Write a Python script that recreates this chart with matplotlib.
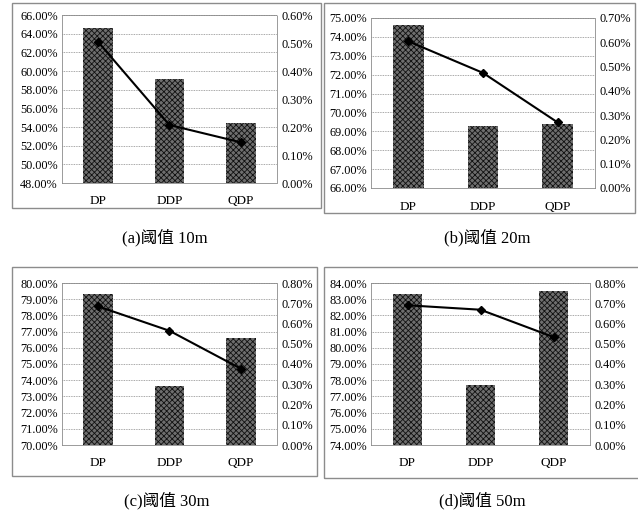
import matplotlib
matplotlib.use("Agg")
import matplotlib.pyplot as plt
import matplotlib.patches as patches
import numpy as np

plt.rcParams['font.family'] = ['Liberation Serif', 'Noto Sans CJK SC']
plt.rcParams['hatch.linewidth'] = 0.6

# --- Daten ---
categories = ['DP', 'DDP', 'QDP']
captions = ['(a)阈值 10m', '(b)阈值 20m', '(c)阈值 30m', '(d)阈值 50m']

bar_a = [64.6, 59.1, 54.4]
bar_b = [74.65, 69.26, 69.4]
bar_c = [79.3, 73.65, 76.6]
bar_d = [83.3, 77.7, 83.5]

line_a = [0.505, 0.207, 0.145]
line_b = [0.604, 0.474, 0.270]
line_c = [0.685, 0.564, 0.376]
line_d = [0.690, 0.668, 0.533]

left_ticks_a = np.arange(48, 66.1, 2)
left_ticks_b = np.arange(66, 75.1, 1)
left_ticks_c = np.arange(70, 80.1, 1)
left_ticks_d = np.arange(74, 84.1, 1)
right_ticks_a = np.arange(0, 0.61, 0.1)
right_ticks_b = np.arange(0, 0.71, 0.1)
right_ticks_c = np.arange(0, 0.81, 0.1)
right_ticks_d = np.arange(0, 0.81, 0.1)

W, H = 638, 512
fig = plt.figure(figsize=(W / 100, H / 100), dpi=100)


def px_rect(l, r, t, b):
    return [l / W, (H - b) / H, (r - l) / W, (b - t) / H]


def draw_box(l, r, t, b):
    rect = patches.Rectangle((l / W, (H - b) / H), (r - l) / W, (b - t) / H,
                             transform=fig.transFigure, fill=False,
                             edgecolor='#8c8c8c', linewidth=1.0)
    fig.add_artist(rect)


def panel(pos, bars, line, lticks, rticks, caption, cap_xy):
    ax = fig.add_axes(px_rect(*pos))
    x = np.arange(len(categories))
    ax.bar(x, bars, width=0.41, color='#6e6e6e', edgecolor='#111111',
           linewidth=0, hatch='xxxxxx', zorder=2)
    ax.set_xlim(-0.5, 2.5)
    ax.set_ylim(lticks[0], lticks[-1])
    ax.set_yticks(lticks)
    ax.set_yticklabels([f'{v:.2f}%' for v in lticks], fontsize=8.8)
    ax.set_xticks(x)
    ax.set_xticklabels(categories, fontsize=9.5)
    ax.tick_params(axis='both', length=0)
    ax.tick_params(axis='y', pad=3)
    ax.tick_params(axis='x', pad=9)
    ax.grid(axis='y', color='#8a8a8a', linestyle=(0, (1, 1)), linewidth=0.6, zorder=0)
    ax.set_axisbelow(True)
    for s in ax.spines.values():
        s.set_linestyle((0, (1, 1)))
        s.set_color('#8a8a8a')
        s.set_linewidth(0.6)

    ax2 = ax.twinx()
    ax2.plot(x, line, color='black', linewidth=1.5, marker='D', markersize=4, zorder=3)
    ax2.set_ylim(rticks[0], rticks[-1])
    ax2.set_yticks(rticks)
    ax2.set_yticklabels([f'{v:.2f}%' for v in rticks], fontsize=8.8)
    ax2.tick_params(axis='y', length=0, pad=3)
    for s in ax2.spines.values():
        s.set_visible(False)

    fig.text(cap_xy[0] / W, 1 - cap_xy[1] / H, caption, fontsize=12,
             ha='center', va='center')


draw_box(12, 321, 3, 208)
draw_box(324, 635, 3, 213)
draw_box(12, 317, 267, 476)
draw_box(324, 645, 267, 478)

panel((62, 277, 15, 183), bar_a, line_a, left_ticks_a, right_ticks_a, captions[0], (165, 238))
panel((371, 595, 18, 188), bar_b, line_b, left_ticks_b, right_ticks_b, captions[1], (487, 238))
panel((62, 277, 283, 445), bar_c, line_c, left_ticks_c, right_ticks_c, captions[2], (167, 501))
panel((371, 590, 283, 445), bar_d, line_d, left_ticks_d, right_ticks_d, captions[3], (482, 501))

fig.savefig('out.png', dpi=100)
